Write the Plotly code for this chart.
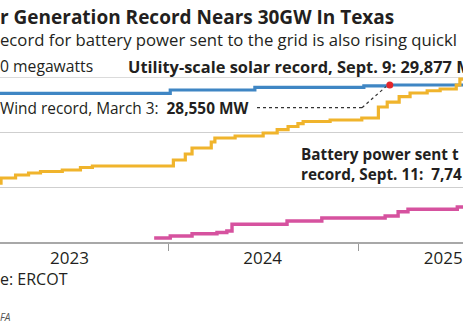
import plotly.graph_objects as go

# ---- data (MW) ----
wind_dates = ["2023-01-15", "2024-01-05", "2024-06-16", "2025-01-12", "2025-03-03", "2025-09-15"]
wind_mw = [27030, 27640, 28130, 28400, 28550, 28550]

solar_dates = ["2023-01-15", "2023-02-13", "2023-03-13", "2023-04-07", "2023-04-30", "2023-06-11",
               "2023-07-16", "2023-08-08", "2024-01-11", "2024-02-03", "2024-02-16", "2024-03-24",
               "2024-03-31", "2024-05-09", "2024-07-02", "2024-07-29", "2024-08-19", "2024-09-07",
               "2024-09-17", "2024-11-08", "2025-01-08", "2025-02-09", "2025-02-26", "2025-03-21",
               "2025-04-11", "2025-05-14", "2025-06-08", "2025-07-09", "2025-07-16", "2025-09-09"]
solar_mw = [10700, 11640, 12180, 12545, 12820, 13090,
            13545, 13820, 14910, 16000, 17090, 18180,
            18910, 19270, 19820, 20450, 21000, 21540,
            21910, 22180, 22545, 24545, 25450, 26450,
            27090, 27500, 27815, 28545, 29630, 29877]

battery_dates = ["2023-12-05", "2024-01-05", "2024-02-16", "2024-04-04", "2024-04-23", "2024-05-03",
                 "2024-08-17", "2024-10-23", "2025-02-22", "2025-03-19", "2025-04-07", "2025-07-11",
                 "2025-09-11"]
battery_mw = [730, 1090, 1490, 1730, 2000, 3220,
              3820, 4360, 4730, 5510, 5945, 6360,
              7744]

wind_record_date = "2025-03-03"
wind_record_mw = 28550

y_ticks = [0, 10000, 20000, 30000]
year_starts = ["2023-01-01", "2024-01-01", "2025-01-01"]
year_label_pos = ["2023-06-25", "2024-07-01", "2025-06-14"]
year_labels = ["2023", "2024", "2025"]
x_range = ["2023-02-11", "2025-07-22"]

BLUE = "#3f86c4"
YELLOW = "#f0b42c"
PINK = "#d6529f"
RED = "#e3262b"
GRID = "#cfcfcf"
FONT = "Open Sans"

W, H = 463, 326
TOP, BOT = 77, 242  # pixel rows of plot area

fig = go.Figure()
fig.add_trace(go.Scatter(x=wind_dates, y=wind_mw, mode="lines", line=dict(color=BLUE, width=3.2, shape="hv")))
fig.add_trace(go.Scatter(x=solar_dates, y=solar_mw, mode="lines", line=dict(color=YELLOW, width=3.2, shape="hv")))
fig.add_trace(go.Scatter(x=battery_dates, y=battery_mw, mode="lines", line=dict(color=PINK, width=3.4, shape="hv")))
fig.add_trace(go.Scatter(x=[wind_record_date], y=[wind_record_mw], mode="markers",
                         marker=dict(color=RED, size=7), cliponaxis=False))


def px(x):
    return x / W


def py(y):
    return (BOT - y) / (BOT - TOP)


anns = []


def ann(text, x, y, size, color="#231f20", italic=False):
    t = "<i>" + text + "</i>" if italic else text
    anns.append(dict(text=t, x=px(x), y=py(y), xref="paper", yref="paper", xanchor="left",
                     yanchor="middle", showarrow=False, font=dict(family=FONT, size=size, color=color),
                     borderpad=0, borderwidth=0, align="left"))


ann("<b>r Generation Record Nears 30GW In Texas</b>", 0, 17, 19)
ann("ecord for battery power sent to the grid is also rising quickl", 0, 39, 16.7)
ann("0 megawatts", 0, 66, 15.7)
ann("<b>Utility-scale solar record, Sept. 9: 29,877 MW</b>", 128, 66, 16.4)
ann("Wind record, March 3:  <b>28,550 MW</b>", 0, 108.5, 15.4)
ann("<b>Battery power sent t<br>record, Sept. 11:  7,74</b>", 301, 164, 15.3)
ann("e: ERCOT", 0, 278.5, 16)
ann("FA", 0, 316.5, 10, color="#555555", italic=True)

shapes = [
    # top gridline at 30,000
    dict(type="line", xref="paper", yref="y", x0=0, x1=1, y0=y_ticks[-1], y1=y_ticks[-1],
         line=dict(color=GRID, width=1.3), layer="below"),
    # dotted leader from wind label to the record dot
    dict(type="line", xref="paper", yref="paper", x0=px(257), y0=py(107.7), x1=px(362), y1=py(107.7),
         line=dict(color="#333333", width=1.2, dash="dot")),
    dict(type="line", xref="paper", yref="y", x0=px(362), y0=(BOT - 107.7) / (BOT - TOP) * 30000,
         x1=px(386), y1=wind_record_mw - 300,
         line=dict(color="#333333", width=1.2, dash="dot")),
]

fig.update_layout(
    width=W, height=H, autosize=False,
    margin=dict(l=0, r=0, t=TOP, b=H - BOT, pad=0, autoexpand=False),
    paper_bgcolor="white", plot_bgcolor="white",
    showlegend=False,
    annotations=anns, shapes=shapes,
    xaxis=dict(type="date", range=x_range, tickmode="array", tickvals=year_label_pos, ticktext=year_labels,
               ticks="", ticklabeloverflow="allow", ticklabelstandoff=0, automargin=False,
               minor=dict(tickmode="array", tickvals=year_starts, ticks="outside", ticklen=7,
                          tickwidth=1.2, tickcolor="#9a9a9a", showgrid=False),
               showgrid=False, showline=True, linecolor="#a8a8a8", linewidth=1.5, zeroline=False,
               tickfont=dict(family=FONT, size=17, color="#231f20")),
    yaxis=dict(range=[0, 30000], tickvals=y_ticks, showticklabels=False, showgrid=True, automargin=False,
               gridcolor=GRID, gridwidth=1.3, zeroline=False, showline=False, ticks=""),
)

fig.write_html("out.html")
